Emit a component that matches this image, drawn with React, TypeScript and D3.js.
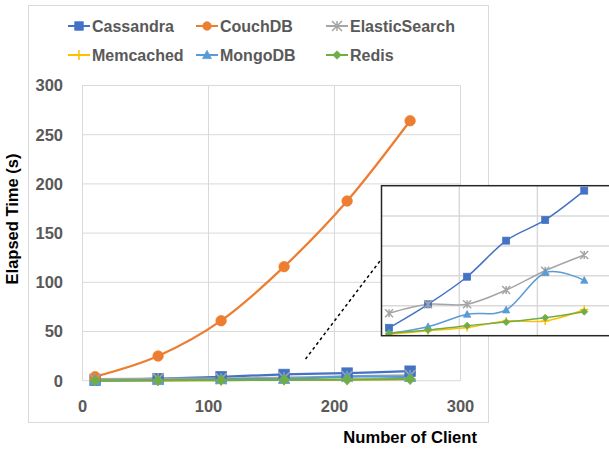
import * as d3 from "d3";

const WIDTH = 609;
const HEIGHT = 450;

// data
const clients = [10, 60, 110, 160, 210, 260];
const cassandra = [0.53, 2.1, 3.94, 6.35, 7.73, 9.69];
const couchdb = [4.1, 25.1, 61, 115.9, 182.6, 264.2];
const elasticsearch = [1.5, 2.1, 2.1, 3.05, 4.34, 5.39];
const memcached = [0.1, 0.33, 0.55, 0.98, 0.98, 1.75];
const mongodb = [0.16, 0.6, 1.43, 1.72, 4.21, 3.7];
const redis = [0.16, 0.38, 0.67, 0.91, 1.2, 1.6];

const seriesNames = ["Cassandra", "CouchDB", "ElasticSearch", "Memcached", "MongoDB", "Redis"];
const seriesValues = [cassandra, couchdb, elasticsearch, memcached, mongodb, redis];
const seriesColors = ["#4472C4", "#ED7D31", "#A5A5A5", "#FFC000", "#5B9BD5", "#70AD47"];
const seriesShapes = ["square", "circle", "star", "plus", "triangle", "diamond"];

const xTicks = [0, 100, 200, 300];
const yTicks = [0, 50, 100, 150, 200, 250, 300];
const insetYTicks = [2, 4, 6, 8];
const insetXTicks = [100, 200];

const FONT = "'Liberation Sans', Arial, sans-serif";
const GRID = "#d9d9d9";
const LABEL = "#595959";

function Marker({ shape, x, y, size, color }: { shape: string; x: number; y: number; size: number; color: string }) {
  const h = size / 2;
  if (shape === "square")
    return <rect x={x - h} y={y - h} width={size} height={size} fill={color} stroke={color} strokeWidth={0.75} />;
  if (shape === "circle") return <circle cx={x} cy={y} r={h} fill={color} stroke={color} strokeWidth={0.75} />;
  if (shape === "triangle")
    return (
      <path
        d={`M${x},${y - h * 1.1}L${x + h * 1.05},${y + h * 0.85}L${x - h * 1.05},${y + h * 0.85}Z`}
        fill={color}
        stroke={color}
        strokeWidth={0.75}
      />
    );
  if (shape === "diamond")
    return (
      <path d={`M${x},${y - h}L${x + h},${y}L${x},${y + h}L${x - h},${y}Z`} fill={color} stroke={color} strokeWidth={0.75} />
    );
  if (shape === "plus")
    return (
      <path d={`M${x - h},${y}H${x + h}M${x},${y - h}V${y + h}`} fill="none" stroke={color} strokeWidth={1.5} />
    );
  // star: X plus vertical bar
  return (
    <path
      d={`M${x - h},${y - h}L${x + h},${y + h}M${x - h},${y + h}L${x + h},${y - h}M${x},${y - h}V${y + h}`}
      fill="none"
      stroke={color}
      strokeWidth={1.5}
    />
  );
}

function App() {
  const x = d3.scaleLinear().domain([0, 300]).range([82.5, 460.5]);
  const y = d3.scaleLinear().domain([0, 300]).range([380.7, 85.5]);

  const ix = d3.scaleLinear().domain([0, 300]).range([381.2, 615.5]);
  const iy = d3.scaleLinear().domain([0, 10]).range([335.7, 186]);

  const line = d3
    .line<number>()
    .x((_, i) => x(clients[i]))
    .y((d) => y(d))
    .curve(d3.curveCardinal.tension(0));

  const insetLine = d3
    .line<number>()
    .x((_, i) => ix(clients[i]))
    .y((d) => iy(d))
    .curve(d3.curveCardinal.tension(0));

  const legendCols = [79, 207, 337];
  const legendRows = [26, 55];

  // zoom pointer from the bottom cluster to the inset
  const pointerFrom = [x(177), y(22)];
  const pointerTo = [ix(0), iy(5.1)];

  return (
    <svg
      width={WIDTH}
      height={HEIGHT}
      style={{ position: "absolute", left: 0, top: 0, background: "#fff" }}
      fontFamily={FONT}
    >
      <rect x={28.5} y={5.5} width={460} height={417} fill="#fff" stroke={GRID} />

      {/* legend */}
      {seriesNames.map((name, i) => {
        const cx = legendCols[i % 3];
        const cy = legendRows[Math.floor(i / 3)];
        return (
          <g key={name}>
            <line x1={cx - 11} x2={cx + 11} y1={cy} y2={cy} stroke={seriesColors[i]} strokeWidth={2} />
            <Marker shape={seriesShapes[i]} x={cx} y={cy} size={i === 2 || i === 3 ? 10 : 8.5} color={seriesColors[i]} />
            <text x={cx + 13} y={cy} dy="0.36em" fontSize={16} fontWeight="bold" fill={LABEL}>
              {name}
            </text>
          </g>
        );
      })}

      {/* grid */}
      {yTicks.map((t) => (
        <line key={"gy" + t} x1={x(0)} x2={x(300)} y1={y(t)} y2={y(t)} stroke={GRID} strokeWidth={1} />
      ))}
      {xTicks.map((t) => (
        <line key={"gx" + t} x1={x(t)} x2={x(t)} y1={y(0)} y2={y(300)} stroke={GRID} strokeWidth={1} />
      ))}

      {/* tick labels */}
      {yTicks.map((t) => (
        <text key={"ty" + t} x={63} y={y(t)} dy="0.36em" textAnchor="end" fontSize={16.5} fontWeight="bold" fill={LABEL}>
          {t}
        </text>
      ))}
      {xTicks.map((t) => (
        <text key={"tx" + t} x={x(t)} y={406} dy="0.36em" textAnchor="middle" fontSize={16.5} fontWeight="bold" fill={LABEL}>
          {t}
        </text>
      ))}

      {/* axis titles */}
      <text
        transform={`translate(18,219) rotate(-90)`}
        textAnchor="middle"
        fontSize={16.5}
        fontWeight="bold"
        fill="#000"
      >
        Elapsed Time (s)
      </text>
      <text x={477} y={443} textAnchor="end" fontSize={16.6} fontWeight="bold" fill="#000">
        Number of Client
      </text>

      {/* series */}
      {seriesValues.map((vals, i) => (
        <path key={"l" + i} d={line(vals) || ""} fill="none" stroke={seriesColors[i]} strokeWidth={2.25} />
      ))}
      {seriesValues.map((vals, i) =>
        vals.map((v, j) => (
          <Marker
            key={`m${i}-${j}`}
            shape={seriesShapes[i]}
            x={x(clients[j])}
            y={y(v)}
            size={i === 2 || i === 3 ? 11 : 10.5}
            color={seriesColors[i]}
          />
        ))
      )}

      {/* pointer */}
      <line
        x1={pointerFrom[0]}
        y1={pointerFrom[1]}
        x2={pointerTo[0]}
        y2={pointerTo[1]}
        stroke="#000"
        strokeWidth={1.5}
        strokeDasharray="3,3"
      />

      {/* inset */}
      <defs>
        <clipPath id="insetClip">
          <rect x={381.5} y={185.7} width={240} height={150} />
        </clipPath>
      </defs>
      <rect x={381.5} y={185.7} width={240} height={150} fill="#fff" />
      <g clipPath="url(#insetClip)">
        {insetYTicks.map((t) => (
          <line key={"igy" + t} x1={ix(0)} x2={ix(300)} y1={iy(t)} y2={iy(t)} stroke={GRID} strokeWidth={1.5} />
        ))}
        {insetXTicks.map((t) => (
          <line key={"igx" + t} x1={ix(t)} x2={ix(t)} y1={iy(0)} y2={iy(10)} stroke={GRID} strokeWidth={1.5} />
        ))}
        {seriesValues.map((vals, i) =>
          i === 1 ? null : (
            <path key={"il" + i} d={insetLine(vals) || ""} fill="none" stroke={seriesColors[i]} strokeWidth={1.5} />
          )
        )}
        {seriesValues.map((vals, i) =>
          i === 1
            ? null
            : vals.map((v, j) => (
                <Marker
                  key={`im${i}-${j}`}
                  shape={seriesShapes[i]}
                  x={ix(clients[j])}
                  y={iy(v)}
                  size={i === 2 || i === 3 ? 8 : 7}
                  color={seriesColors[i]}
                />
              ))
        )}
      </g>
      <rect x={381.5} y={185.7} width={240} height={150} fill="none" stroke="#262626" strokeWidth={1.5} />
    </svg>
  );
}

export default App;
